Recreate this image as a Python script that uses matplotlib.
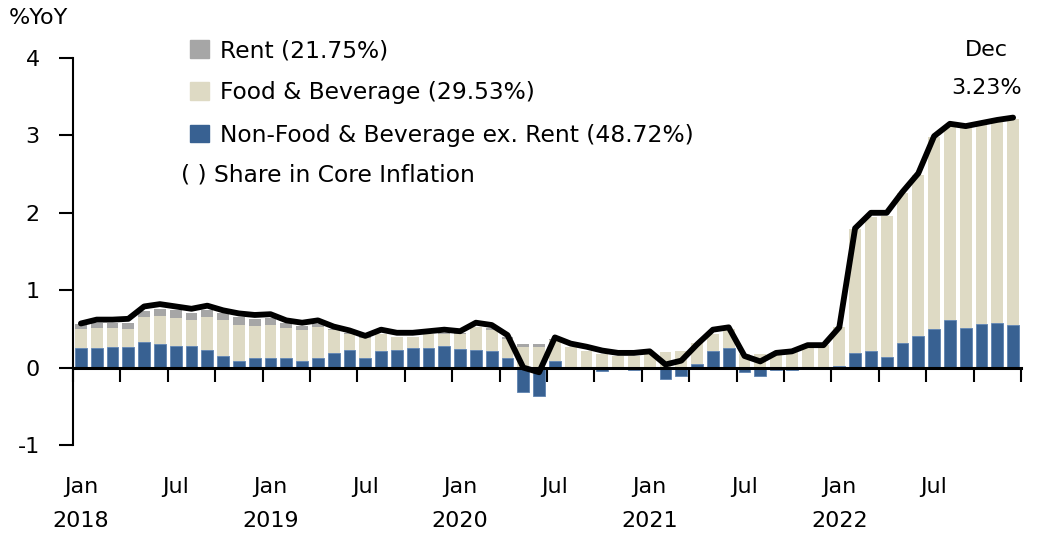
import numpy as np
import matplotlib
matplotlib.use("Agg")
import matplotlib.pyplot as plt
from matplotlib.patches import Patch
import matplotlib.transforms as mtransforms

plt.rcParams['font.family'] = ['DejaVu Sans']

# monthly contributions to core inflation, Jan 2018 - Dec 2022 (%pt)
non_food = [0.25, 0.25, 0.27, 0.27, 0.33, 0.31, 0.28, 0.28, 0.23, 0.15, 0.09, 0.12,
            0.12, 0.12, 0.09, 0.13, 0.19, 0.23, 0.13, 0.21, 0.23, 0.25, 0.25, 0.28,
            0.24, 0.23, 0.21, 0.12, -0.31, -0.37, 0.08, 0.00, -0.01, -0.05, -0.02, -0.03,
            0.00, -0.15, -0.11, 0.05, 0.22, 0.25, -0.06, -0.11, -0.03, -0.03, 0.00, 0.00,
            0.02, 0.19, 0.22, 0.14, 0.32, 0.41, 0.50, 0.62, 0.51, 0.56, 0.57, 0.55]
food = [0.25, 0.26, 0.24, 0.23, 0.32, 0.36, 0.36, 0.33, 0.43, 0.47, 0.46, 0.42,
        0.43, 0.39, 0.40, 0.40, 0.30, 0.21, 0.25, 0.22, 0.16, 0.14, 0.18, 0.16,
        0.20, 0.29, 0.28, 0.25, 0.26, 0.26, 0.28, 0.27, 0.22, 0.17, 0.15, 0.15,
        0.17, 0.20, 0.22, 0.27, 0.22, 0.25, 0.18, 0.18, 0.16, 0.20, 0.31, 0.29,
        0.50, 1.60, 1.72, 1.82, 1.94, 2.08, 2.48, 2.50, 2.59, 2.58, 2.61, 2.66]
rent = [0.06, 0.07, 0.07, 0.08, 0.08, 0.09, 0.10, 0.09, 0.08, 0.08, 0.10, 0.09,
        0.09, 0.07, 0.05, 0.03, 0.01, 0.01, 0.01, 0.01, 0.01, 0.01, 0.01, 0.01,
        0.01, 0.01, 0.02, 0.03, 0.04, 0.04, 0.01, 0.00, 0.00, 0.00, 0.00, 0.00,
        0.00, 0.00, 0.00, 0.00, 0.00, 0.00, 0.00, 0.00, 0.00, 0.00, 0.00, 0.00,
        0.00, 0.00, 0.00, 0.00, 0.00, 0.00, 0.00, 0.00, 0.00, 0.00, 0.00, 0.00]
core = [0.57, 0.62, 0.62, 0.63, 0.79, 0.82, 0.79, 0.76, 0.80, 0.74, 0.70, 0.68,
        0.69, 0.61, 0.58, 0.61, 0.53, 0.48, 0.41, 0.49, 0.45, 0.45, 0.47, 0.49,
        0.47, 0.58, 0.55, 0.42, 0.00, -0.06, 0.39, 0.31, 0.27, 0.22, 0.19, 0.19,
        0.21, 0.04, 0.09, 0.30, 0.49, 0.52, 0.15, 0.08, 0.19, 0.21, 0.29, 0.29,
        0.52, 1.80, 2.00, 2.00, 2.27, 2.51, 2.99, 3.15, 3.12, 3.16, 3.20, 3.23]
years = ["2018", "2019", "2020", "2021", "2022"]

labels = ["Rent (21.75%)", "Food & Beverage (29.53%)", "Non-Food & Beverage ex. Rent (48.72%)"]
c_rent = "#a6a6a6"
c_food = "#dedac4"
c_nonfood = "#386192"

nf = np.array(non_food)
fd = np.array(food)
rt = np.array(rent)
x = np.arange(len(nf))

fs = 16

fig = plt.figure(figsize=(10.53, 5.34), dpi=100)
ax = fig.add_axes([73/1053, 1-445/534, 948/1053, 387/534])

w = 0.74
nf_pos = np.clip(nf, 0, None)
ax.bar(x, nf, width=w, color=c_nonfood, edgecolor="#5d82b0", linewidth=0.6, zorder=2)
ax.bar(x, fd, width=w, bottom=nf_pos, color=c_food, edgecolor="none", zorder=2)
ax.bar(x, rt, width=w, bottom=nf_pos + fd, color=c_rent, edgecolor="none", zorder=2)
ax.plot(x, core, color="black", lw=4.2, solid_capstyle="round", zorder=3)

ax.set_xlim(-0.5, len(x) - 0.5)
ax.set_ylim(-1, 4)
ax.set_yticks([-1, 0, 1, 2, 3, 4])
ax.set_yticklabels(["-1", "0", "1", "2", "3", "4"])

for s in ["top", "right"]:
    ax.spines[s].set_visible(False)
ax.spines["left"].set_linewidth(1.5)
ax.spines["bottom"].set_position(("data", 0))
ax.spines["bottom"].set_linewidth(2.2)
ax.set_xticks(np.arange(-0.5, len(x), 3))
ax.set_xticklabels([])
ax.tick_params(axis="x", direction="out", length=10, width=1.5)
ax.tick_params(axis="y", direction="out", length=10, width=1.5, labelsize=fs, pad=14)

# month / year labels under the plot
trans = mtransforms.blended_transform_factory(ax.transData, fig.transFigure)
for i in range(0, len(x), 6):
    ax.text(i, 1 - 487/534, "Jan" if i % 12 == 0 else "Jul", transform=trans,
            ha="center", va="center", fontsize=fs)
    if i % 12 == 0:
        ax.text(i, 1 - 521/534, years[i // 12], transform=trans,
                ha="center", va="center", fontsize=fs)

fig.text(9/1053, 1 - 18/534, "%YoY", fontsize=fs, va="center", ha="left")

ax.text(x[-1] - 1.7, 1 - 50/534, "Dec", transform=trans, ha="center", va="center", fontsize=fs)
ax.text(x[-1] - 1.7, 1 - 88/534, f"{core[-1]:.2f}%", transform=trans, ha="center", va="center", fontsize=fs)

handles = [Patch(color=c_rent), Patch(color=c_food), Patch(color=c_nonfood)]
leg = fig.legend(handles, labels, loc="upper left", bbox_to_anchor=(181/1053, 1 - 30/534),
                 frameon=False, fontsize=16.8, handlelength=0.8, handleheight=0.8,
                 handletextpad=0.45, labelspacing=0.82, borderaxespad=0)
fig.text(181/1053, 1 - 175/534, "( ) Share in Core Inflation", fontsize=16.8, va="center", ha="left")

fig.savefig("out.png", dpi=100)
